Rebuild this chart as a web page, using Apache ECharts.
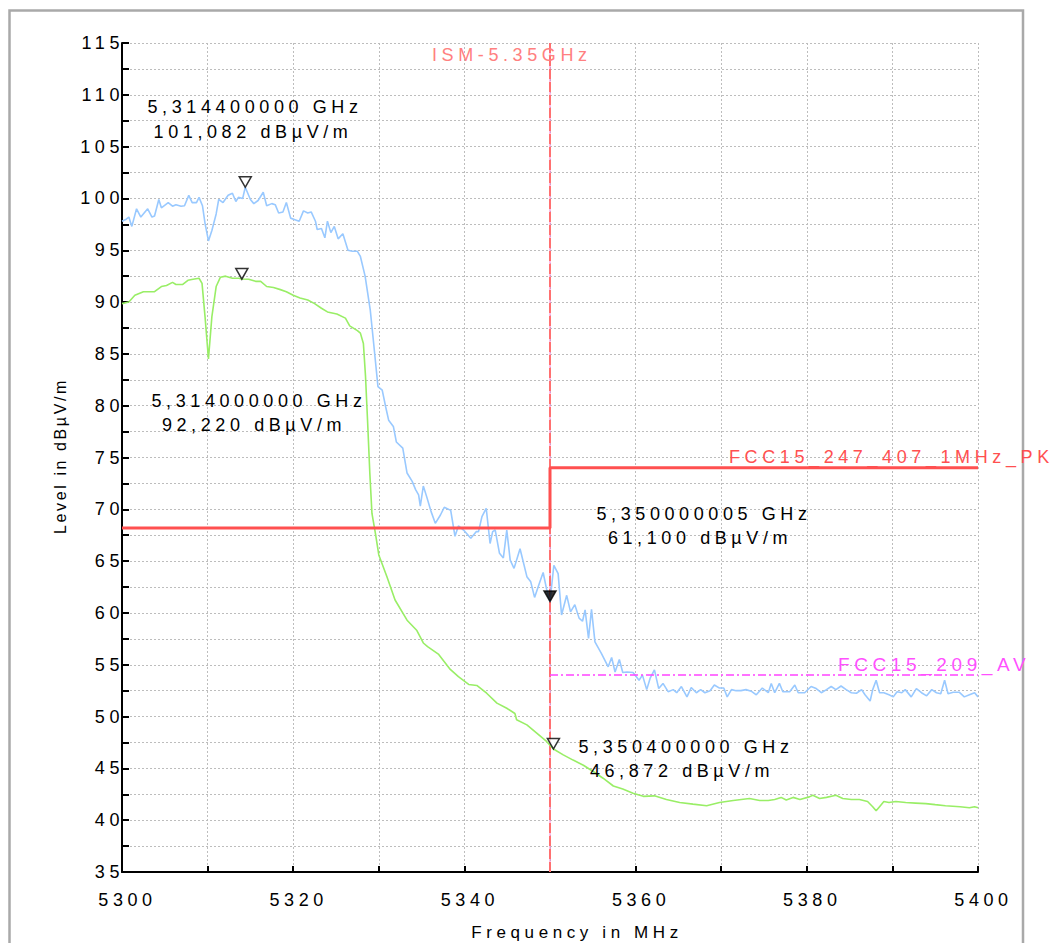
<!DOCTYPE html>
<html>
<head>
<meta charset="utf-8">
<script src="https://cdn.jsdelivr.net/npm/echarts@6/dist/echarts.min.js"></script>
<style>
html,body{margin:0;padding:0;background:#fff;}
#chart{width:1057px;height:943px;}
#chart text{letter-spacing:4.6px;}
#chart text[transform*=",-1,1,"]{letter-spacing:2.6px;}
</style>
</head>
<body>
<div id="chart"></div>
<script>
// ---- data ----
const peakFreq = [5300.0,5300.5,5300.8,5301.15,5301.7,5302.2,5303.0,5303.5,5303.8,5304.3,5304.6,5305.4,5305.9,5306.3,5306.9,5307.3,5307.8,5308.2,5308.7,5309.0,5309.4,5309.7,5310.1,5310.5,5311.0,5311.3,5311.8,5312.4,5312.9,5313.3,5313.6,5314.1,5314.4,5315.0,5315.4,5315.9,5316.5,5316.9,5317.5,5317.9,5318.3,5318.8,5319.2,5319.7,5320.2,5320.7,5321.2,5321.7,5322.1,5322.6,5322.8,5323.3,5323.7,5324.0,5324.4,5324.8,5325.25,5325.8,5326.4,5326.9,5327.5,5327.85,5328.4,5329.0,5329.4,5329.9,5330.4,5330.8,5331.15,5331.7,5332.05,5332.8,5333.3,5333.9,5334.3,5334.65,5334.85,5335.2,5335.6,5336.1,5336.6,5337.2,5337.65,5338.4,5338.9,5339.3,5339.9,5340.75,5341.4,5341.65,5342.05,5342.55,5343.0,5343.3,5343.6,5344.1,5344.55,5344.95,5345.35,5345.8,5346.5,5347.3,5347.75,5348.2,5348.75,5349.2,5349.6,5350.0,5350.45,5350.95,5351.35,5351.95,5352.4,5352.9,5353.4,5353.8,5354.1,5354.5,5354.85,5355.25,5356.0,5356.8,5357.2,5357.6,5358.1,5358.5,5359.0,5359.7,5360.4,5360.8,5361.3,5361.7,5362.2,5362.7,5363.2,5363.8,5364.4,5364.8,5365.35,5366.0,5366.5,5367.1,5367.6,5368.1,5368.7,5369.2,5369.8,5370.3,5370.7,5371.2,5371.75,5372.3,5372.9,5373.5,5374.1,5374.8,5375.5,5375.85,5376.25,5376.8,5377.2,5378.0,5378.6,5379.0,5379.75,5380.5,5381.1,5381.7,5382.3,5382.85,5383.4,5384.0,5384.6,5385.2,5385.8,5386.4,5386.8,5387.4,5387.7,5388.1,5388.5,5389.0,5389.6,5390.1,5390.55,5391.1,5391.5,5392.2,5392.8,5393.4,5394.0,5394.6,5395.15,5395.65,5396.1,5396.5,5397.1,5397.8,5398.4,5399.0,5399.6,5400.0];
const peakLevel = [97.8,98.0,98.2,97.3,99.0,98.2,99.0,98.2,98.3,99.9,99.1,99.6,99.25,99.4,99.25,99.3,100.3,99.6,99.6,100.1,99.3,97.6,95.9,96.9,98.5,99.9,99.6,100.3,100.5,99.7,100.1,100.0,101.08,99.9,99.5,99.8,100.6,99.3,99.5,99.4,98.6,98.7,99.6,98.1,97.95,97.8,98.8,98.6,98.7,97.8,97.0,97.1,96.2,97.8,96.7,97.3,96.1,96.6,95.0,94.9,94.9,94.4,92.5,89.25,86.0,81.85,81.5,79.9,78.6,78.0,76.5,75.9,73.5,72.7,71.9,71.4,70.3,72.25,71.2,69.8,68.65,69.45,70.2,69.9,67.4,68.4,68.0,67.2,67.85,67.85,69.3,70.1,66.7,67.85,68.0,65.75,65.3,68.0,65.1,64.3,66.2,63.5,63.0,61.5,62.85,63.9,62.3,61.1,64.6,63.8,59.8,61.7,60.1,60.8,59.5,59.2,60.3,57.55,60.35,57.2,56.1,54.8,55.7,54.3,55.5,54.25,54.3,54.25,53.5,54.0,52.6,53.7,54.5,52.7,53.2,52.4,52.6,52.3,52.9,51.9,52.8,52.3,52.6,52.3,52.5,53.05,52.75,52.75,51.9,52.6,52.5,52.5,52.6,52.45,52.1,52.75,52.3,53.2,52.3,53.2,52.4,52.4,53.05,52.3,52.3,52.9,52.7,52.3,52.6,52.9,52.6,52.95,52.6,52.3,52.25,52.6,52.1,51.5,52.6,53.5,52.3,52.3,52.1,51.9,52.4,52.3,52.6,51.9,52.7,52.3,52.0,52.6,52.3,52.2,53.5,52.2,52.35,52.35,51.9,52.1,52.3,51.9];

const avgFreq = [5300.0,5300.8,5301.5,5302.5,5303.8,5304.6,5305.2,5305.9,5306.3,5307.1,5307.7,5308.3,5309.0,5309.35,5309.7,5310.1,5310.5,5311.0,5311.5,5312.1,5312.9,5313.65,5314.0,5314.8,5315.6,5316.2,5316.9,5317.7,5318.5,5319.2,5320.0,5320.8,5321.7,5322.5,5323.3,5324.0,5325.1,5326.1,5326.6,5327.5,5327.85,5328.2,5328.45,5328.7,5328.95,5329.2,5329.6,5330.0,5330.95,5331.9,5333.3,5334.45,5335.2,5335.7,5337.0,5338.35,5339.3,5340.5,5341.45,5342.6,5343.8,5344.95,5345.9,5346.1,5347.3,5348.45,5349.6,5350.4,5351.55,5352.7,5353.9,5355.05,5356.2,5357.4,5358.5,5359.7,5360.9,5362.2,5363.6,5365.15,5366.7,5368.3,5369.8,5371.4,5373.3,5374.5,5375.5,5376.25,5377.0,5377.6,5378.4,5379.2,5380.3,5380.7,5381.5,5382.3,5383.4,5384.2,5385.2,5386.15,5387.1,5387.7,5388.1,5388.5,5389.0,5389.6,5390.4,5391.55,5392.7,5393.9,5395.0,5396.2,5397.9,5399.0,5399.6,5400.0];
const avgLevel = [89.85,90.0,90.65,91.0,91.0,91.5,91.6,91.9,91.7,91.7,92.1,92.2,92.3,91.8,88.6,84.5,88.6,91.5,92.4,92.5,92.3,92.3,92.22,92.2,92.0,92.0,91.5,91.4,91.2,91.0,90.65,90.4,90.2,89.85,89.4,89.05,88.85,88.45,87.7,87.25,87.0,86.0,82.8,78.3,73.5,69.6,67.7,65.6,63.5,61.25,59.3,58.3,57.1,56.75,56.0,54.55,53.85,53.1,53.0,52.25,51.3,50.8,50.3,49.7,49.2,48.4,47.6,46.87,46.3,45.8,45.3,44.7,44.05,43.3,43.0,42.6,42.3,42.35,42.0,41.7,41.55,41.4,41.7,41.9,42.1,41.9,41.9,42.0,42.2,41.95,42.2,42.0,42.25,42.4,42.1,42.2,42.4,42.1,42.0,42.0,41.8,41.3,40.9,41.3,41.8,41.7,41.8,41.7,41.65,41.6,41.5,41.4,41.3,41.2,41.3,41.2];

const pkLimitFreq = [5300, 5350, 5350, 5400];
const pkLimitLevel = [68.2, 68.2, 74, 74];
const avLimitFreq = [5350, 5400];
const avLimitLevel = [54, 54];
const ismFreq = [5350, 5350];
const ismLevel = [35, 115];

const markerFreq = [5314.4, 5314.0, 5350.0, 5350.4];
const markerLevel = [101.082, 92.22, 61.1, 46.872];
const markerFilled = [false, false, true, false];

const xTickLabels = ['5300','5320','5340','5360','5380','5400'];
const yTickLabels = ['35','40','45','50','55','60','65','70','75','80','85','90','95','100','105','110','115'];

const annotationLines = [
  ['5,314400000 GHz', '101,082 dBµV/m'],
  ['5,314000000 GHz', '92,220 dBµV/m'],
  ['5,350000005 GHz', '61,100 dBµV/m'],
  ['5,350400000 GHz', '46,872 dBµV/m']
];
const pkLimitName = 'FCC15_247_407_1MHz_PK';
const avLimitName = 'FCC15_209_AV';
const ismName = 'ISM-5.35GHz';
const xTitle = 'Frequency in MHz';
const yTitle = 'Level in dBµV/m';

// ---- chart ----
const FONT = '"Liberation Sans", Arial, sans-serif';
const zip = (a, b) => a.map((v, i) => [v, b[i]]);
const chart = echarts.init(document.getElementById('chart'), null, {renderer: 'svg'});

// annotation positions (pixel centres of each line)
const annoPos = [
  [[255, 107], [253, 132]],
  [[259, 401], [254, 425]],
  [[704, 514], [700, 538]],
  [[686, 747], [682, 771]]
];
const graphics = [
  {type: 'rect', shape: {x: 9.5, y: 10.5, width: 1013.5, height: 1000},
   style: {fill: 'none', stroke: '#a9a9a9', lineWidth: 2.5}, silent: true, z: 0}
];
annotationLines.forEach((lines, i) => {
  lines.forEach((t, j) => {
    graphics.push({type: 'text', x: annoPos[i][j][0], y: annoPos[i][j][1], z: 20,
      style: {text: t, fill: '#000', font: '18px ' + FONT, textAlign: 'center', textVerticalAlign: 'middle'}});
  });
});
graphics.push({type: 'text', x: 432, y: 55, z: 20,
  style: {text: ismName, fill: '#ff8080', font: '18px ' + FONT, textAlign: 'left', textVerticalAlign: 'middle'}});
graphics.push({type: 'text', x: 729, y: 457, z: 20,
  style: {text: pkLimitName, fill: '#ff5050', font: '18px ' + FONT, textAlign: 'left', textVerticalAlign: 'middle'}});
graphics.push({type: 'text', x: 838, y: 664, z: 20,
  style: {text: avLimitName, fill: '#ff50ff', font: '19px ' + FONT, textAlign: 'left', textVerticalAlign: 'middle'}});
graphics.push({type: 'text', x: 577, y: 932, z: 20,
  style: {text: xTitle, fill: '#000', font: '17px ' + FONT, textAlign: 'center', textVerticalAlign: 'middle'}});
graphics.push({type: 'text', x: 60, y: 456, rotation: Math.PI / 2, z: 20,
  style: {text: yTitle, fill: '#000', font: '16px ' + FONT, textAlign: 'center', textVerticalAlign: 'middle'}});

const gridLine = {show: true, lineStyle: {color: '#bdbdbd', width: 1, type: [2, 2]}};

chart.setOption({
  animation: false,
  backgroundColor: '#fff',
  grid: {left: 122, right: 79, top: 43, bottom: 71, containLabel: false},
  xAxis: {
    type: 'value', min: 5300, max: 5400, interval: 10,
    axisLine: {onZero: false, lineStyle: {color: '#000', width: 2}},
    axisTick: {inside: true, length: 6, lineStyle: {color: '#000', width: 2}},
    axisLabel: {
      formatter: v => xTickLabels.includes(String(v)) ? String(v) : '',
      color: '#000', fontSize: 18, fontFamily: FONT, margin: 19, padding: [0, 0, 0, 11]
    },
    splitLine: gridLine
  },
  yAxis: {
    type: 'value', min: 35, max: 115, interval: 2.5,
    axisLine: {onZero: false, lineStyle: {color: '#000', width: 2}},
    axisTick: {inside: true, length: 7, lineStyle: {color: '#000', width: 2}},
    axisLabel: {
      formatter: v => yTickLabels.includes(String(v)) ? String(v) : '',
      color: '#000', fontSize: 18, fontFamily: FONT, margin: -2
    },
    splitLine: gridLine
  },
  graphic: graphics,
  series: [
    {type: 'line', name: 'ismBase', data: zip(ismFreq, ismLevel), showSymbol: false, silent: true,
     lineStyle: {color: '#ff77cc', width: 1}, z: 2},
    {type: 'line', name: ismName, data: zip(ismFreq, ismLevel), showSymbol: false, silent: true,
     lineStyle: {color: '#ff7070', width: 2, type: [10, 3]}, z: 2},
    {type: 'line', name: 'Peak', data: zip(peakFreq, peakLevel), showSymbol: false,
     lineStyle: {color: '#99c9ff', width: 1.6}, z: 3},
    {type: 'line', name: 'Average', data: zip(avgFreq, avgLevel), showSymbol: false,
     lineStyle: {color: '#99ee66', width: 1.6}, z: 3},
    {type: 'line', name: avLimitName, data: zip(avLimitFreq, avLimitLevel), showSymbol: false,
     lineStyle: {color: '#ff44ff', width: 1.5, type: [8, 3, 2, 3]}, z: 4},
    {type: 'line', name: pkLimitName, data: zip(pkLimitFreq, pkLimitLevel), showSymbol: false,
     lineStyle: {color: '#ff5050', width: 3}, z: 4},
    {type: 'scatter', name: 'markers', z: 10,
     symbol: 'path://M0,0L12,0L6,10.5Z', symbolSize: [12, 10.5], symbolOffset: [0, '-50%'],
     data: markerFreq.map((f, i) => ({
       value: [f, markerLevel[i]],
       itemStyle: {color: markerFilled[i] ? '#000' : '#fff', borderColor: '#000', borderWidth: 1.5}
     }))}
  ]
});
</script>
</body>
</html>
